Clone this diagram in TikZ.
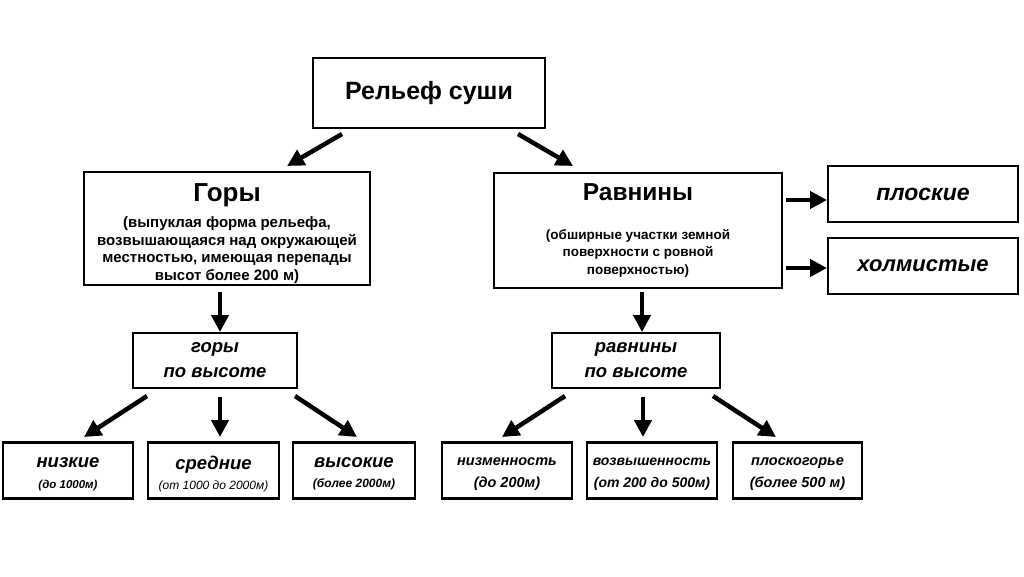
\documentclass[tikz,border=0pt]{standalone}
\usepackage{fontspec}
\setmainfont{Liberation Sans}
\usetikzlibrary{arrows.meta}
\newcommand{\fs}[2]{\fontsize{#1}{#2}\selectfont}
\tikzset{
  box/.style={draw=black, line width=2.4pt, fill=white, inner sep=0pt, align=center, font=\bfseries},
  txt/.style={inner sep=0pt, align=center, font=\bfseries},
  arr/.style={line width=4.5pt, -{Triangle[length=17pt,width=17pt]}},
}
\begin{document}
\begin{tikzpicture}[x=1pt,y=-1pt]
\fill[white] (0,0) rectangle (1024,576);
\useasboundingbox (0,0) rectangle (1024,576);
% top
\node[box, minimum width=232, minimum height=70] (title) at (429,93) {\fs{25}{28}Рельеф суши};
\node[box, minimum width=286, minimum height=113] (gory) at (227,228.5) {};
\node[txt, font=\bfseries\fs{15}{17.5}] (goryt) at ([yshift=-5pt]gory.center)
 {{\fs{26}{28}Горы}\\[8.5pt]
  {\fs{15}{17.5}(выпуклая форма рельефа,}\\{\fs{15}{17.5}возвышающаяся над окружающей}\\{\fs{15}{17.5}местностью, имеющая перепады}\\{\fs{15}{17.5}высот более 200 м)}};
\node[box, minimum width=288, minimum height=115, font=\bfseries\fs{13.5}{17.5}] (ravn) at (638,230.5)
 {{\fs{24.5}{26}Равнины}\\[21pt]
  {\fs{13.5}{17.5}(обширные участки земной}\\{\fs{13.5}{17.5}поверхности с ровной}\\{\fs{13.5}{17.5}поверхностью)}};
\node[box, minimum width=190, minimum height=56] (plosk) at (923,194) {\itshape\fs{23}{26}плоские};
\node[box, minimum width=190, minimum height=56] (holm) at (923,266) {\itshape\fs{22}{26}холмистые};
% middle
\node[box, minimum width=164, minimum height=55, font=\bfseries\itshape\fs{18.5}{25}] (gpv) at (215,360.5) {{\fs{18.5}{25}горы}\\{\fs{18.5}{25}по высоте}};
\node[box, minimum width=168, minimum height=55, font=\bfseries\itshape\fs{18.5}{25}] (rpv) at (636,360.5) {{\fs{18.5}{25}равнины}\\{\fs{18.5}{25}по высоте}};
% bottom boxes
\tikzset{bb/.style={box, minimum height=56},
         tl/.style={txt, font=\bfseries\itshape\fs{12}{20.5}},
         tr/.style={txt, font=\bfseries\itshape\fs{14.5}{22.5}}}
\node[bb, minimum width=130] (nizk) at (68,470.5) {};
\node[bb, minimum width=131] (sred) at (213.5,470.5) {};
\node[bb, minimum width=122] (vys) at (354,470.5) {};
\node[bb, minimum width=130] (nizm) at (507,470.5) {};
\node[bb, minimum width=130] (vozv) at (652,470.5) {};
\node[bb, minimum width=129] (plg) at (797.5,470.5) {};
% bottom texts
\node[tl] (nizkt) at ([yshift=-3.5pt]nizk.center)
 {{\fs{18.5}{20}низкие}\\{\fs{11.5}{14}(до 1000м)}};
\node[tl] (sredt) at ([yshift=-3.5pt]sred.center)
 {{\fs{18.5}{20}средние}\\{\mdseries\fs{12}{14}(от 1000 до 2000м)}};
\node[tl] (vyst) at ([yshift=-3.5pt]vys.center)
 {{\fs{18.5}{20}высокие}\\{\fs{12}{14}(более 2000м)}};
\node[tr] (nizmt) at ([yshift=-3.5pt]nizm.center)
 {{\fs{14.5}{17}низменность}\\{\fs{14.5}{17}(до 200м)}};
\node[tr] (vozvt) at ([yshift=-3.5pt]vozv.center)
 {{\fs{14}{17}возвышенность}\\{\fs{14}{17}(от 200 до 500м)}};
\node[tr] (plgt) at ([yshift=-3.5pt]plg.center)
 {{\fs{14.5}{17}плоскогорье}\\{\fs{14.5}{17}(более 500 м)}};
% arrow end points
\coordinate (t1) at (342,134); \coordinate (h1) at (287,166);
\coordinate (t2) at (518,134); \coordinate (h2) at (573,166);
\coordinate (t3) at (220,292); \coordinate (h3) at (220,332);
\coordinate (t4) at (642,292); \coordinate (h4) at (642,332);
\coordinate (t5) at (786,200); \coordinate (h5) at (827,200);
\coordinate (t6) at (786,268); \coordinate (h6) at (827,268);
\coordinate (t7) at (147,396); \coordinate (h7) at (84,437);
\coordinate (t8) at (220,397); \coordinate (h8) at (220,437);
\coordinate (t9) at (295,396); \coordinate (h9) at (357,437);
\coordinate (t10) at (565,396); \coordinate (h10) at (502,437);
\coordinate (t11) at (643,397); \coordinate (h11) at (643,437);
\coordinate (t12) at (713,396); \coordinate (h12) at (776,437);
\foreach \i in {1,...,12} \draw[arr] (t\i) -- (h\i);
\end{tikzpicture}
\end{document}
